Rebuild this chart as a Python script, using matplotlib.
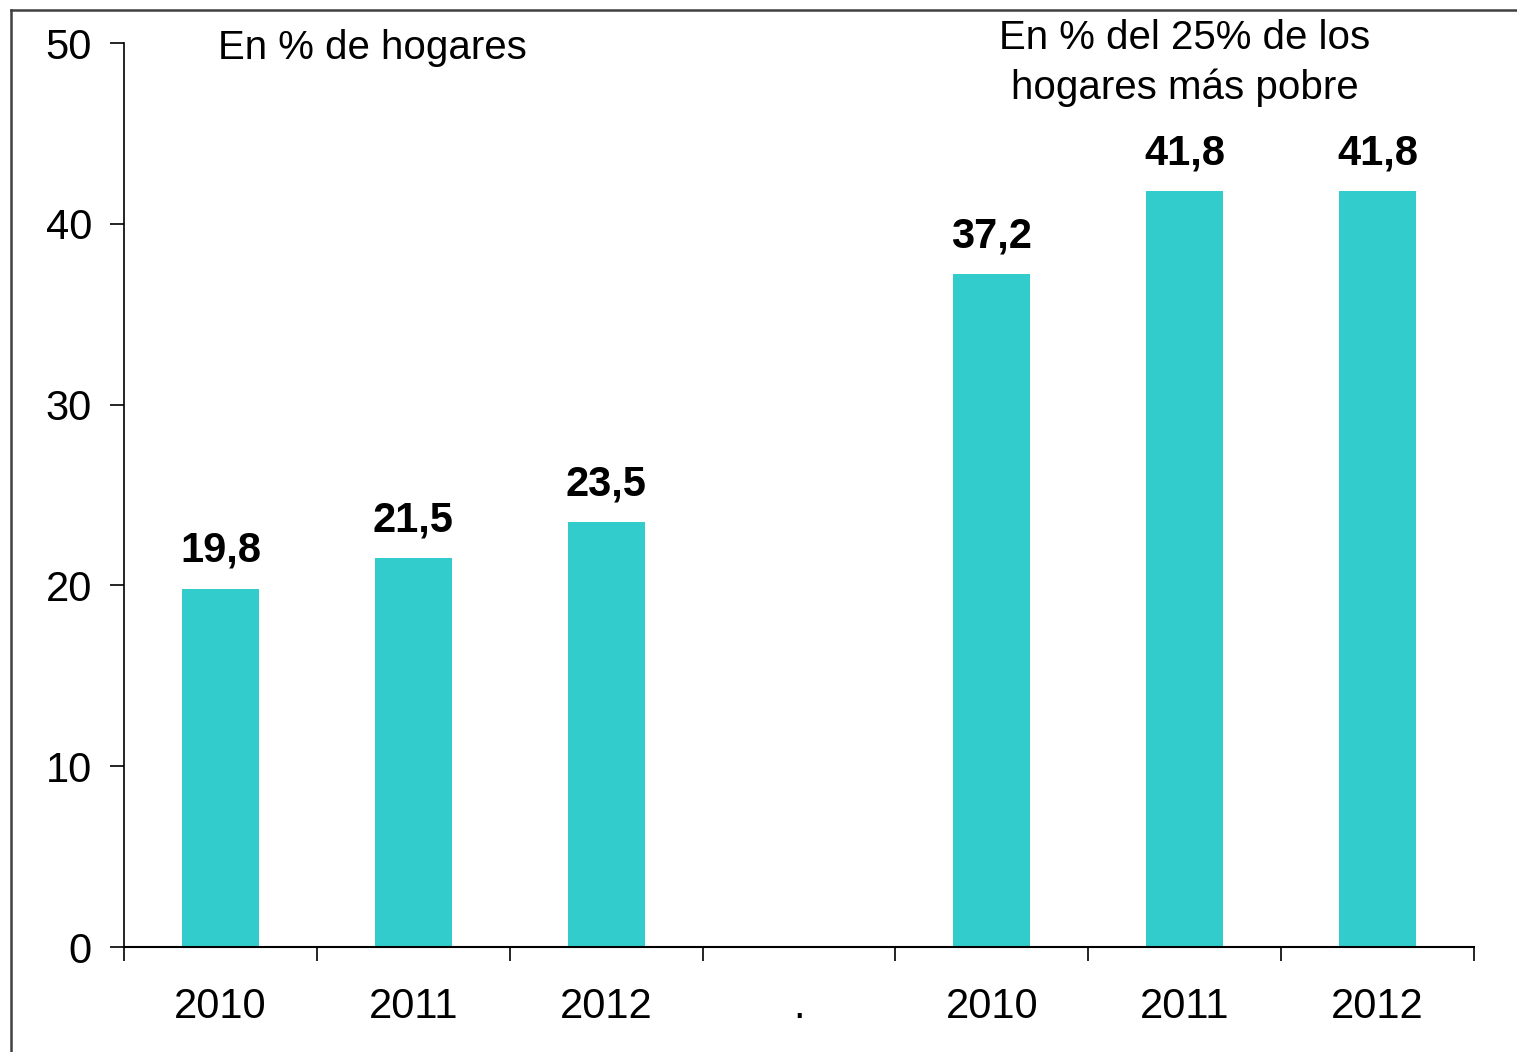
import matplotlib
matplotlib.use("Agg")
from matplotlib import pyplot as plt
from matplotlib.lines import Line2D
import numpy as np

plt.rcParams['font.family'] = ['Liberation Sans', 'DejaVu Sans']

# data
categories = ["2010", "2011", "2012", ".", "2010", "2011", "2012"]
values = [19.8, 21.5, 23.5, None, 37.2, 41.8, 41.8]
value_labels = ["19,8", "21,5", "23,5", "", "37,2", "41,8", "41,8"]
y_ticks = [0, 10, 20, 30, 40, 50]

fig = plt.figure(figsize=(15.17, 10.52), dpi=100)
ax = fig.add_axes([0.0817, 0.0998, 0.890, 0.8593])

x = np.arange(len(categories))
for xi, v, lab in zip(x, values, value_labels):
    if v is None:
        continue
    ax.bar(xi, v, width=0.40, color="#33CCCC", zorder=2)
    ax.annotate(lab, (xi, v), xytext=(0, 13), textcoords="offset points",
                ha="center", va="bottom", fontsize=30, fontweight="bold")

ax.set_xlim(-0.5, len(categories) - 0.5)
ax.set_ylim(0, 50)
ax.set_yticks(y_ticks)
ax.set_yticklabels([str(t) for t in y_ticks], fontsize=30)

# tick marks between categories, labels centred on categories
ax.set_xticks(np.arange(-0.5, len(categories), 1.0))
ax.set_xticklabels([])
ax.set_xticks(x, minor=True)
ax.set_xticklabels(categories, minor=True, fontsize=30)
ax.tick_params(axis="x", which="major", direction="out", length=10, width=1.2)
ax.tick_params(axis="x", which="minor", length=0, pad=29)
ax.tick_params(axis="y", direction="out", length=10, width=1.2, pad=13)

for side in ["top", "right"]:
    ax.spines[side].set_visible(False)
ax.spines["left"].set_linewidth(1.2)
ax.spines["bottom"].set_linewidth(1.5)

fig.text(218 / 1517, 1 - 48 / 1052, "En % de hogares", fontsize=29,
         ha="left", va="center")
fig.text(1185 / 1517, 1 - 63 / 1052, "En % del 25% de los\nhogares más pobre",
         fontsize=29, ha="center", va="center", linespacing=1.38)

# outer frame (top and left edges visible)
fig.add_artist(Line2D([11 / 1517, 1.0], [1 - 10 / 1052, 1 - 10 / 1052],
                      transform=fig.transFigure, color="#404040", lw=1.8))
fig.add_artist(Line2D([11 / 1517, 11 / 1517], [0.0, 1 - 10 / 1052],
                      transform=fig.transFigure, color="#404040", lw=1.8))

fig.savefig("out.png", dpi=100)
